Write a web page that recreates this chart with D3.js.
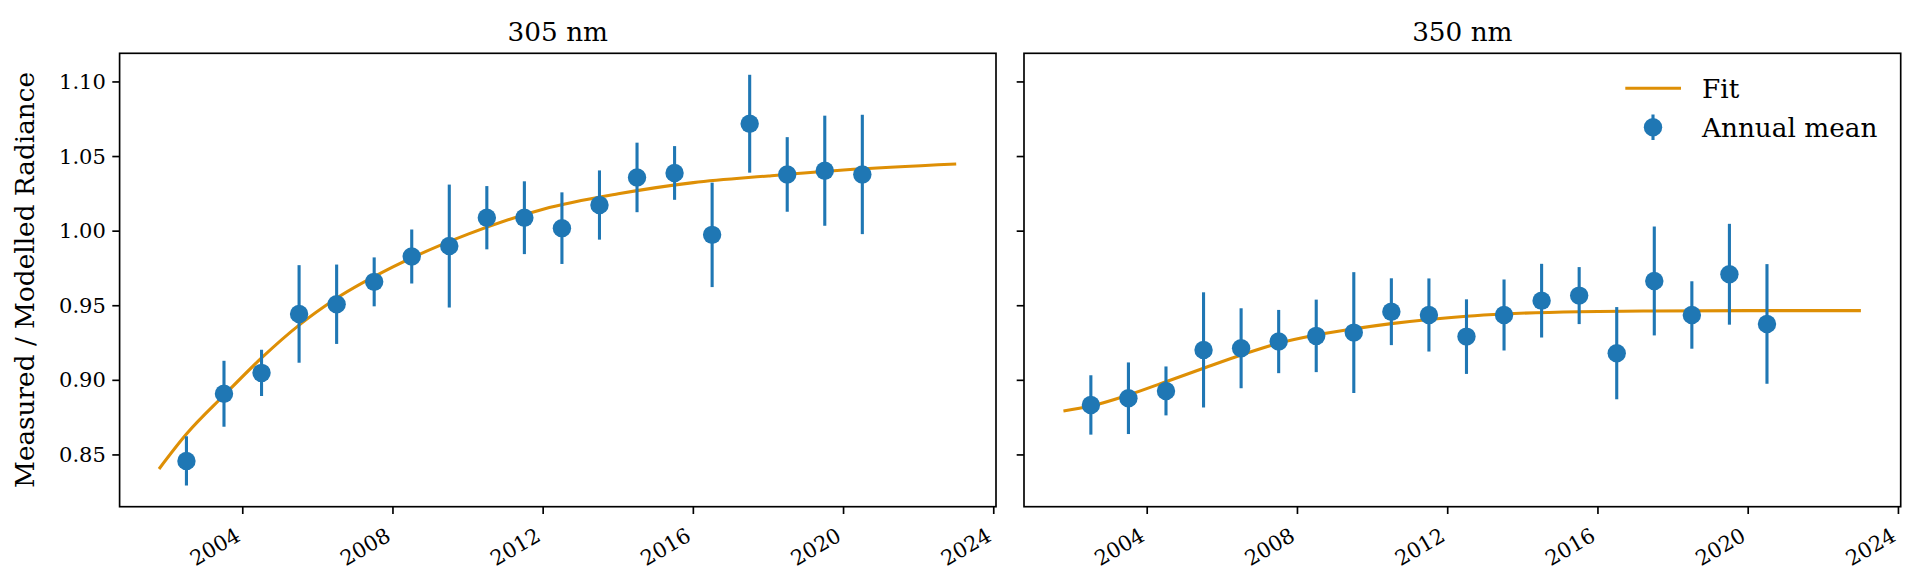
<!DOCTYPE html>
<html>
<head>
<meta charset="utf-8">
<script src="https://cdn.jsdelivr.net/npm/d3@7"></script>
<style>
  html, body { margin: 0; padding: 0; background: #ffffff; }
  svg { display: block; }
  text { font-family: "DejaVu Serif", "Liberation Serif", serif; fill: #000; }
</style>
</head>
<body>
<svg id="chart" width="1920" height="586"></svg>
<script>
// ---------------- data ----------------
const years = [2002.5, 2003.5, 2004.5, 2005.5, 2006.5, 2007.5, 2008.5, 2009.5, 2010.5, 2011.5,
               2012.5, 2013.5, 2014.5, 2015.5, 2016.5, 2017.5, 2018.5, 2019.5, 2020.5];

const mean305 = [0.846, 0.891, 0.905, 0.9445, 0.951, 0.966, 0.983, 0.990, 1.009, 1.009,
                 1.002, 1.0175, 1.036, 1.039, 0.9975, 1.072, 1.038, 1.0405, 1.038];
const err305  = [0.0165, 0.0221, 0.0155, 0.0327, 0.0266, 0.0164, 0.0181, 0.0412, 0.0212, 0.0244,
                 0.024, 0.0232, 0.0233, 0.018, 0.035, 0.0328, 0.025, 0.0369, 0.040];

const mean350 = [0.8835, 0.888, 0.8929, 0.9204, 0.9215, 0.926, 0.9298, 0.932, 0.946, 0.9438,
                 0.9293, 0.9438, 0.9534, 0.9568, 0.9182, 0.9666, 0.9438, 0.9711, 0.9378];
const err350  = [0.0199, 0.024, 0.0164, 0.0386, 0.0268, 0.0212, 0.0243, 0.0405, 0.0224, 0.0245,
                 0.025, 0.0238, 0.0247, 0.0191, 0.0309, 0.0365, 0.0226, 0.0338, 0.0401];

const fitYears305 = [2001.77, 2002.5, 2003.5, 2004.5, 2005.5, 2006.5, 2008, 2010, 2012, 2014, 2016, 2018, 2020, 2023];
const fit305      = [0.8406, 0.864, 0.890, 0.915, 0.937, 0.955, 0.976, 0.998, 1.0147, 1.025, 1.0325, 1.037, 1.041, 1.045];

const fitYears350 = [2001.77, 2002.5, 2003.5, 2004.5, 2005.5, 2006.5, 2007.5, 2008.5, 2009.5, 2010.5, 2011.5, 2012.5, 2013.5, 2015.5, 2017.5, 2020, 2023];
const fit350      = [0.8795, 0.8828, 0.8902, 0.8991, 0.9081, 0.917, 0.9249, 0.9304, 0.9345, 0.938, 0.9408, 0.943, 0.9445, 0.946, 0.9465, 0.9467, 0.9467];

const panelTitles = ["305 nm", "350 nm"];
const yTicks = [0.85, 0.90, 0.95, 1.00, 1.05, 1.10];
const xTicks = [2004, 2008, 2012, 2016, 2020, 2024];
const yLabel = "Measured / Modelled Radiance";
const legendLabels = ["Fit", "Annual mean"];

// ---------------- layout ----------------
const COL_FIT = "#de8f05";
const COL_PT = "#1f77b4";
const axTop = 53.3, axBottom = 506.7;
const panels = [
  { x0: 119.6, x1: 996.0, title: panelTitles[0], mean: mean305, err: err305, fy: fitYears305, fv: fit305, yLabels: true, legend: false },
  { x0: 1024.0, x1: 1900.7, title: panelTitles[1], mean: mean350, err: err350, fy: fitYears350, fv: fit350, yLabels: false, legend: true }
];
const tickLen = 7.3, tickW = 1.67, spineW = 1.67;
const tickFont = 21, bigFont = 26.3;

const svg = d3.select("#chart");

const y = d3.scaleLinear().domain([0.8153, 1.1192]).range([axBottom, axTop]);

panels.forEach(p => {
  const x = d3.scaleLinear().domain([2000.72, 2024.06]).range([p.x0, p.x1]);
  const g = svg.append("g");

  // fit line
  const line = d3.line().x(d => x(d[0])).y(d => y(d[1])).curve(d3.curveMonotoneX);
  g.append("path")
    .datum(p.fy.map((t, i) => [t, p.fv[i]]))
    .attr("d", line)
    .attr("fill", "none")
    .attr("stroke", COL_FIT)
    .attr("stroke-width", 3.1);

  // error bars
  const pts = years.map((t, i) => ({ t, v: p.mean[i], e: p.err[i] }));
  g.selectAll("line.err").data(pts).enter().append("line")
    .attr("x1", d => x(d.t)).attr("x2", d => x(d.t))
    .attr("y1", d => y(d.v - d.e)).attr("y2", d => y(d.v + d.e))
    .attr("stroke", COL_PT).attr("stroke-width", 3.1);

  g.selectAll("circle.pt").data(pts).enter().append("circle")
    .attr("cx", d => x(d.t)).attr("cy", d => y(d.v))
    .attr("r", 9.2).attr("fill", COL_PT);

  // spines
  g.append("rect")
    .attr("x", p.x0).attr("y", axTop)
    .attr("width", p.x1 - p.x0).attr("height", axBottom - axTop)
    .attr("fill", "none").attr("stroke", "#000").attr("stroke-width", spineW);

  // y ticks
  yTicks.forEach(v => {
    g.append("line")
      .attr("x1", p.x0 - tickLen).attr("x2", p.x0)
      .attr("y1", y(v)).attr("y2", y(v))
      .attr("stroke", "#000").attr("stroke-width", tickW);
    if (p.yLabels) {
      g.append("text")
        .attr("x", p.x0 - tickLen - 6.5).attr("y", y(v))
        .attr("text-anchor", "end").attr("dominant-baseline", "central")
        .style("font-size", tickFont + "px")
        .text(d3.format(".2f")(v));
    }
  });

  // x ticks
  xTicks.forEach(t => {
    g.append("line")
      .attr("x1", x(t)).attr("x2", x(t))
      .attr("y1", axBottom).attr("y2", axBottom + tickLen)
      .attr("stroke", "#000").attr("stroke-width", tickW);
    g.append("text")
      .attr("transform", `translate(${x(t) - 1},${axBottom + 33}) rotate(-30)`)
      .attr("text-anchor", "end")
      .style("font-size", tickFont + "px")
      .text(d3.format("d")(t));
  });

  // title
  g.append("text")
    .attr("x", (p.x0 + p.x1) / 2).attr("y", 41)
    .attr("text-anchor", "middle")
    .style("font-size", bigFont + "px")
    .text(p.title);

  if (p.yLabels) {
    g.append("text")
      .attr("transform", `translate(34,${(axTop + axBottom) / 2}) rotate(-90)`)
      .attr("text-anchor", "middle")
      .style("font-size", bigFont + "px")
      .text(yLabel);
  }

  if (p.legend) {
    const lg = g.append("g");
    lg.append("line")
      .attr("x1", 1625.3).attr("x2", 1681).attr("y1", 88.3).attr("y2", 88.3)
      .attr("stroke", COL_FIT).attr("stroke-width", 3.1);
    lg.append("text").attr("x", 1702).attr("y", 98)
      .style("font-size", bigFont + "px").text(legendLabels[0]);
    lg.append("line")
      .attr("x1", 1653).attr("x2", 1653).attr("y1", 114.5).attr("y2", 140)
      .attr("stroke", COL_PT).attr("stroke-width", 3.1);
    lg.append("circle").attr("cx", 1653).attr("cy", 127.3).attr("r", 9.2).attr("fill", COL_PT);
    lg.append("text").attr("x", 1702).attr("y", 137)
      .style("font-size", bigFont + "px").text(legendLabels[1]);
  }
});
</script>
</body>
</html>
